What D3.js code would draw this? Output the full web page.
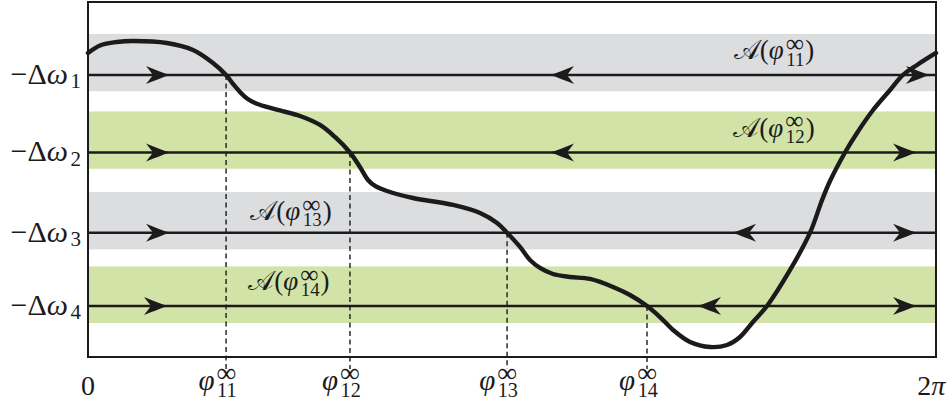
<!DOCTYPE html>
<html>
<head>
<meta charset="utf-8">
<script src="https://cdn.jsdelivr.net/npm/d3@7"></script>
<style>
  body { margin: 0; background: #fff; }
</style>
</head>
<body>
<svg id="chart" width="951" height="410"></svg>
<script>
// levels -Δω_k (horizontal lines), in the same units as the curve
const levels = [-1.0, -2.0, -3.035, -3.98]
const levelNames = ["1", "2", "3", "4"]
// shaded band around every level: upper / lower edge
const bandHi = [-0.47, -1.47, -2.51, -3.47]
const bandLo = [-1.21, -2.21, -3.25, -4.20]
// crossing points φ∞_1k
const phiInf = [1.023, 1.941, 3.105, 4.142]
const phiNames = ["11", "12", "13", "14"]
// arrow tips on every level: [position, direction]
const arrows = [
  [[0.608, 1], [3.423, -1], [6.239, 1]],
  [[0.608, 1], [3.423, -1], [6.143, 1]],
  [[0.608, 1], [4.772, -1], [6.143, 1]],
  [[0.593, 1], [4.512, -1], [6.143, 1]]
]
// basin labels A(φ∞_1k): x, baseline y
const basinX = [5.083, 5.083, 1.504, 1.489]
const basinY = [-0.794, -1.794, -2.871, -3.774]
// the curve
const curveX = [0, 0.089, 0.215, 0.333, 0.585, 0.778, 0.926, 1.023, 1.075, 1.126, 1.178, 1.238, 1.311, 1.423,
  1.571, 1.719, 1.830, 1.941, 2.015, 2.075, 2.127, 2.215, 2.408, 2.705, 2.905, 3.031, 3.105, 3.201,
  3.275, 3.349, 3.445, 3.571, 3.720, 3.890, 4.016, 4.142, 4.238, 4.335, 4.461, 4.609, 4.735, 4.831,
  4.927, 5.031, 5.202, 5.350, 5.439, 5.498, 5.609, 5.698, 5.817, 5.943, 6.039, 6.143, 6.283]
const curveY = [-0.716, -0.619, -0.574, -0.561, -0.587, -0.677, -0.845, -1.000, -1.116, -1.219, -1.303, -1.361, -1.406, -1.458,
  -1.529, -1.645, -1.800, -2.000, -2.187, -2.355, -2.432, -2.497, -2.587, -2.677, -2.781, -2.910, -3.035, -3.219,
  -3.387, -3.490, -3.568, -3.606, -3.632, -3.735, -3.839, -3.981, -4.123, -4.290, -4.445, -4.510, -4.484, -4.381,
  -4.187, -3.981, -3.516, -3.035, -2.613, -2.368, -2.000, -1.748, -1.452, -1.194, -1.000, -0.871, -0.716]
const xTickVals = [0, 2 * Math.PI]
const xTickLabels = [[{t: "0"}], [{t: "2"}, {t: "π", it: true}]]

const svg = d3.select("#chart")
const bandColors = ["#dcdddf", "#d2e3a8", "#dcdddf", "#d2e3a8"]
const ink = "#1c1a1b"
const font = "'Liberation Serif', 'DejaVu Serif', serif"

const x = d3.scaleLinear().domain([0, 2 * Math.PI]).range([88, 936])
const y = d3.scaleLinear().domain([-4.639, -0.058]).range([357, 2])

// lays out text runs; {t, it} is plain text, {sup, sub} are stacked scripts
function mathLabel(g, runs, size) {
  let cx = 0
  const txt = (px, py, s, it, str) => g.append("text").attr("x", px).attr("y", py)
    .attr("font-family", font).attr("font-size", s).attr("font-style", it ? "italic" : "normal")
    .attr("fill", ink).text(str)
  runs.forEach(r => {
    if (r.t !== undefined) {
      const el = txt(cx, 0, size, r.it, r.t)
      cx += el.node().getComputedTextLength() + (r.it ? 1.5 : 0)
    } else {
      let w = 0
      const ss = size * 0.7
      if (r.sup) {
        // the infinity glyph is small in this font, so it gets a larger size
        const s = txt(cx + 0.5, -size * 0.27, size * 0.95, false, r.sup)
        w = Math.max(w, s.node().getComputedTextLength() + 0.5)
      }
      if (r.sub) {
        const s = txt(cx + 1, r.sup ? size * 0.24 : size * 0.15, ss, false, r.sub)
        w = Math.max(w, s.node().getComputedTextLength() + 1)
      }
      cx += w + 1
    }
  })
  return cx
}
function placeLabel(px, py, runs, anchor, size) {
  const g = svg.append("g")
  const w = mathLabel(g, runs, size)
  const shift = anchor == "end" ? -w : anchor == "middle" ? -w / 2 : 0
  g.attr("transform", `translate(${px + shift}, ${py})`)
}

// bands
svg.append("g").selectAll("rect")
  .data(levels.map((l, i) => i))
  .join("rect")
  .attr("x", x(0))
  .attr("width", x(2 * Math.PI) - x(0))
  .attr("y", i => y(bandHi[i]))
  .attr("height", i => y(bandLo[i]) - y(bandHi[i]))
  .attr("fill", i => bandColors[i])

// dashed drops from the crossings
svg.append("g").selectAll("line")
  .data(phiInf.map((p, i) => i))
  .join("line")
  .attr("x1", i => x(phiInf[i])).attr("x2", i => x(phiInf[i]))
  .attr("y1", i => y(levels[i])).attr("y2", y.range()[0] + 12)
  .attr("stroke", ink).attr("stroke-width", 1.4).attr("stroke-dasharray", "5,3.5")

// level lines
svg.append("g").selectAll("line")
  .data(levels)
  .join("line")
  .attr("x1", x(0)).attr("x2", x(2 * Math.PI))
  .attr("y1", d => y(d)).attr("y2", d => y(d))
  .attr("stroke", ink).attr("stroke-width", 2.6)

// arrow heads
const arrowPath = "M0,0 C-7,-2 -16,-6 -24,-9 L-17,0 L-24,9 C-16,6 -7,2 0,0 Z"
levels.forEach((l, i) => {
  svg.append("g").selectAll("path")
    .data(arrows[i])
    .join("path")
    .attr("d", arrowPath)
    .attr("fill", ink)
    .attr("transform", a => `translate(${x(a[0])}, ${y(l)}) scale(${a[1]}, 1)`)
})

// curve
const curvePts = curveX.map((v, i) => [v, curveY[i]])
svg.append("path")
  .datum(curvePts)
  .attr("fill", "none")
  .attr("stroke", ink)
  .attr("stroke-width", 4.4)
  .attr("stroke-linecap", "round")
  .attr("d", d3.line().x(d => x(d[0])).y(d => y(d[1])).curve(d3.curveCatmullRom.alpha(0.5)))

// frame
svg.append("rect")
  .attr("x", x(0)).attr("y", y.range()[1])
  .attr("width", x(2 * Math.PI) - x(0)).attr("height", y.range()[0] - y.range()[1])
  .attr("fill", "none").attr("stroke", ink).attr("stroke-width", 2)

// y labels -Δω_k
levels.forEach((l, i) => {
  placeLabel(82, y(l) + 9, [{t: "−Δ"}, {t: "ω", it: true}, {sub: levelNames[i]}], "end", 30)
})

// x labels
xTickVals.forEach((v, i) => {
  placeLabel(x(v) + (i == 0 ? 0 : -4), 395, xTickLabels[i], "middle", 28)
})
phiInf.forEach((p, i) => {
  placeLabel(x(p) - 8, 390, [{t: "φ", it: true}, {sup: "∞", sub: phiNames[i]}], "middle", 29)
})

// basin labels
basinX.forEach((bx, i) => {
  placeLabel(x(bx), y(basinY[i]), [{t: "𝒜"}, {t: "("}, {t: "φ", it: true}, {sup: "∞", sub: phiNames[i]}, {t: ")"}], "middle", 27)
})
</script>
</body>
</html>
